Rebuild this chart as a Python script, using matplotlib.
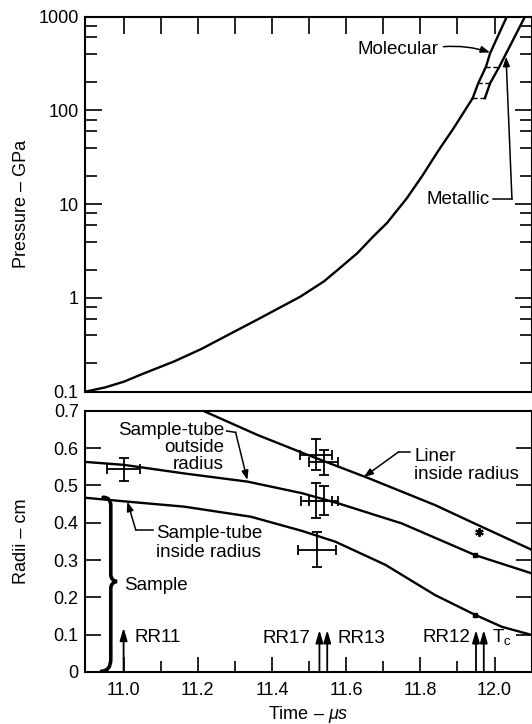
import numpy as np
import matplotlib
matplotlib.use('Agg')
import matplotlib.pyplot as plt
from matplotlib.path import Path
from matplotlib.patches import PathPatch
from matplotlib.ticker import FixedLocator, LogLocator, FuncFormatter, NullFormatter

plt.rcParams['font.family'] = ['Liberation Sans', 'DejaVu Sans']
plt.rcParams['mathtext.fontset'] = 'custom'
plt.rcParams['mathtext.rm'] = 'Liberation Sans'
plt.rcParams['mathtext.it'] = 'Liberation Sans:italic'
plt.rcParams['mathtext.bf'] = 'Liberation Sans:bold'

# ---------------- data ----------------
# upper panel: pressure history (GPa) vs time (us)
press_time = [10.896, 10.95, 11.001, 11.055, 11.136, 11.21, 11.28, 11.365, 11.424,
              11.476, 11.54, 11.59, 11.63, 11.67, 11.71, 11.763, 11.805, 11.85,
              11.889, 11.915, 11.941]
press_gpa = [0.100, 0.111, 0.128, 0.157, 0.210, 0.286, 0.40, 0.60, 0.80,
             1.03, 1.5, 2.2, 3.0, 4.4, 6.3, 11.5, 20.0, 38.0,
             64.0, 93.0, 135.0]
molecular_time = [11.941, 11.956, 11.977, 11.988, 12.033]
molecular_gpa = [135.0, 195.0, 293.0, 407.0, 1000.0]
metallic_time = [11.974, 11.988, 12.013, 12.082]
metallic_gpa = [135.0, 195.0, 293.0, 1000.0]
transition_gpa = [135.0, 195.0, 293.0]
transition_t_mol = [11.941, 11.956, 11.977]
transition_t_met = [11.974, 11.988, 12.013]

# lower panel: radii (cm) vs time (us)
liner_time = [11.214, 11.361, 11.49, 11.661, 11.840, 11.948, 12.101]
liner_r = [0.700, 0.635, 0.584, 0.519, 0.447, 0.397, 0.327]
outer_time = [10.894, 11.0, 11.163, 11.334, 11.481, 11.578, 11.750, 11.948, 12.101]
outer_r = [0.563, 0.555, 0.532, 0.510, 0.479, 0.452, 0.398, 0.313, 0.264]
inner_time = [10.894, 11.015, 11.163, 11.343, 11.481, 11.571, 11.706, 11.840,
              11.948, 12.020, 12.101]
inner_r = [0.467, 0.456, 0.443, 0.416, 0.378, 0.349, 0.287, 0.206,
           0.153, 0.121, 0.099]

# radiograph measurements with error bars
eb_time = [11.0, 11.519, 11.539, 11.519, 11.539, 11.521]
eb_r = [0.543, 0.582, 0.562, 0.459, 0.459, 0.328]
eb_terr = [0.045, 0.043, 0.040, 0.042, 0.040, 0.051]
eb_rerr = [0.030, 0.041, 0.034, 0.047, 0.038, 0.048]

# RR12 small markers
mk_time = [11.957, 11.948, 11.948]
mk_r = [0.376, 0.313, 0.153]

# radiograph shot times
shot_names = ['RR11', 'RR17', 'RR13', 'RR12', r'T$_\mathrm{c}$']
shot_time = [11.0, 11.528, 11.549, 11.950, 11.971]

# ticks
p_ticks = [0.1, 1, 10, 100, 1000]
r_ticks = [0.0, 0.1, 0.2, 0.3, 0.4, 0.5, 0.6, 0.7]
t_major = [11.0, 11.2, 11.4, 11.6, 11.8, 12.0]
t_minor = [11.1, 11.3, 11.5, 11.7, 11.9]
t_top = [11.0, 11.1, 11.2, 11.3, 11.4, 11.5, 11.6, 11.7, 11.8, 11.9, 12.0]

# ---------------- figure ----------------
W_PX, H_PX = 532, 724
fig = plt.figure(figsize=(W_PX / 100, H_PX / 100), dpi=100)
L = 85 / W_PX
ax1 = fig.add_axes([L, 1 - 391.7 / H_PX, 1 - L, 375.0 / H_PX])
ax2 = fig.add_axes([L, 1 - 672.0 / H_PX, 1 - L, 261.3 / H_PX])

for ax in (ax1, ax2):
    ax.set_xlim(10.896, 12.101)
    for s in ax.spines.values():
        s.set_linewidth(1.5)

FS_TICK = 13
FS_TXT = 13.5
LW = 1.7

# ---- upper panel ----
ax1.set_yscale('log')
ax1.set_ylim(0.1, 1000)
ax1.yaxis.set_major_locator(FixedLocator(p_ticks))
ax1.yaxis.set_major_formatter(FuncFormatter(lambda v, p: f'{v:g}'))
ax1.yaxis.set_minor_locator(LogLocator(base=10, subs=[2, 4, 6, 8]))
ax1.yaxis.set_minor_formatter(NullFormatter())
ax1.xaxis.set_major_locator(FixedLocator(t_top))
ax1.xaxis.set_minor_locator(FixedLocator([]))
ax1.tick_params(axis='x', which='both', direction='in', top=True, bottom=False,
                labeltop=False, labelbottom=False, length=12.5, width=1.2)
ax1.tick_params(axis='y', which='major', direction='in', left=True, right=True,
                length=12.5, width=1.2, labelsize=FS_TICK, pad=4.5)
ax1.tick_params(axis='y', which='minor', direction='in', left=True, right=True,
                length=8.5, width=1.2)

ax1.plot(press_time, press_gpa, color='k', lw=LW, solid_joinstyle='round')
ax1.plot(molecular_time, molecular_gpa, color='k', lw=LW, solid_joinstyle='round')
ax1.plot(metallic_time, metallic_gpa, color='k', lw=LW, solid_joinstyle='round')
ax1.hlines(transition_gpa, transition_t_mol, transition_t_met, colors='k',
           linestyles=(0, (3, 2)), lw=1.0)

ax1.set_ylabel('Pressure – GPa', fontsize=FS_TICK)
ax1.yaxis.set_label_coords(-0.122, 0.5)

arrow_kw = dict(arrowstyle='-|>,head_length=0.55,head_width=0.2', mutation_scale=10,
                lw=1.1, color='k', shrinkA=0, shrinkB=0)

ax1.text(11.848, 396, 'Molecular', ha='right', va='baseline', fontsize=FS_TXT)
ax1.annotate('', xy=(11.988, 415), xytext=(11.862, 479),
             arrowprops=dict(arrow_kw, connectionstyle='arc3,rad=-0.1'))
ax1.text(11.9876, 9.95, 'Metallic', ha='right', va='baseline', fontsize=FS_TXT)
ax1.plot([11.9968, 12.047], [11.3, 11.3], color='k', lw=1.1)
ax1.annotate('', xy=(12.031, 374), xytext=(12.047, 11.3), arrowprops=arrow_kw)

# ---- lower panel ----
ax2.set_ylim(0, 0.7)
ax2.yaxis.set_major_locator(FixedLocator(r_ticks))
ax2.yaxis.set_major_formatter(FuncFormatter(lambda v, p: '0' if abs(v) < 1e-9 else f'{v:.1f}'))
ax2.xaxis.set_major_locator(FixedLocator(t_major))
ax2.xaxis.set_minor_locator(FixedLocator(t_minor))
ax2.xaxis.set_major_formatter(FuncFormatter(lambda v, p: f'{v:.1f}'))
ax2.tick_params(axis='x', which='major', direction='in', top=False, bottom=True,
                length=11, width=1.2, labelsize=FS_TICK, pad=7)
ax2.tick_params(axis='x', which='minor', direction='in', top=False, bottom=True,
                length=8, width=1.2)
ax2.tick_params(axis='y', which='major', direction='in', left=True, right=True,
                length=11.5, width=1.2, labelsize=FS_TICK, pad=4.5)

ax2.plot(liner_time, liner_r, color='k', lw=LW, solid_joinstyle='round')
ax2.plot(outer_time, outer_r, color='k', lw=LW, solid_joinstyle='round')
ax2.plot(inner_time, inner_r, color='k', lw=LW, solid_joinstyle='round')

ax2.errorbar(eb_time, eb_r, xerr=eb_terr, yerr=eb_rerr, fmt='none', ecolor='k',
             elinewidth=1.3, capsize=3.5, capthick=1.3)
ax2.plot(mk_time[:1], mk_r[:1], ls='none', marker=(6, 2, 0), ms=6, mec='k', mew=1.5)
ax2.plot(mk_time[1:], mk_r[1:], ls='none', marker='s', ms=3.5, mfc='k', mec='k')

ax2.set_ylabel('Radii – cm', fontsize=FS_TICK)
ax2.yaxis.set_label_coords(-0.122, 0.5)
ax2.set_xlabel(r'Time – $\mathit{\mu s}$', fontsize=FS_TICK, labelpad=4)

# shot arrows
shot_arrow = dict(arrowstyle='-|>,head_length=0.75,head_width=0.22', mutation_scale=10,
                  lw=1.3, color='k', shrinkA=0, shrinkB=0)
shot_tip = [0.1187, 0.1125, 0.1125, 0.1125, 0.1125]
for t, tip in zip(shot_time, shot_tip):
    ax2.annotate('', xy=(t, tip), xytext=(t, 0), arrowprops=shot_arrow)

label_pos = [(11.0283, 0.081, 'left'), (11.5046, 0.077, 'right'),
             (11.5755, 0.077, 'left'), (11.9348, 0.081, 'right'),
             (11.9933, 0.081, 'left')]
for name, (x, y, ha) in zip(shot_names, label_pos):
    ax2.text(x, y, name, ha=ha, va='baseline', fontsize=FS_TXT)

# annotations (va='baseline' refers to the last line of a multi-line text)
ax2.text(11.271, 0.5438, 'Sample-tube\noutside\nradius', ha='right', va='baseline',
         multialignment='right', linespacing=1.0, fontsize=FS_TXT)
ax2.plot([11.278, 11.302], [0.6456, 0.642], color='k', lw=1.1)
ax2.annotate('', xy=(11.3337, 0.5143), xytext=(11.302, 0.642), arrowprops=arrow_kw)

ax2.text(11.0876, 0.3089, 'Sample-tube\ninside radius', ha='left', va='baseline',
         multialignment='left', linespacing=1.15, fontsize=FS_TXT)
ax2.plot([11.0782, 11.0329], [0.3804, 0.3804], color='k', lw=1.1)
ax2.annotate('', xy=(11.0102, 0.4562), xytext=(11.0329, 0.3804), arrowprops=arrow_kw)

ax2.text(11.783, 0.517, 'Liner\ninside radius', ha='left', va='baseline',
         multialignment='left', linespacing=1.1, fontsize=FS_TXT)
ax2.plot([11.773, 11.7418], [0.590, 0.590], color='k', lw=1.1)
ax2.annotate('', xy=(11.6474, 0.522), xytext=(11.7418, 0.590), arrowprops=arrow_kw)

# sample brace
brace = Path(
    [(10.945, 0.468), (10.9655, 0.468), (10.9655, 0.445),
     (10.9655, 0.262),
     (10.9655, 0.245), (10.982, 0.2425),
     (10.9655, 0.240), (10.9655, 0.223),
     (10.9655, 0.035),
     (10.9655, 0.002), (10.94, 0.002)],
    [Path.MOVETO, Path.CURVE3, Path.CURVE3,
     Path.LINETO,
     Path.CURVE3, Path.CURVE3,
     Path.CURVE3, Path.CURVE3,
     Path.LINETO,
     Path.CURVE3, Path.CURVE3])
ax2.add_patch(PathPatch(brace, fill=False, lw=2.6, edgecolor='k', capstyle='round'))
ax2.text(11.0013, 0.2197, 'Sample', ha='left', va='baseline', fontsize=FS_TXT)

fig.savefig('out.png', dpi=100)
